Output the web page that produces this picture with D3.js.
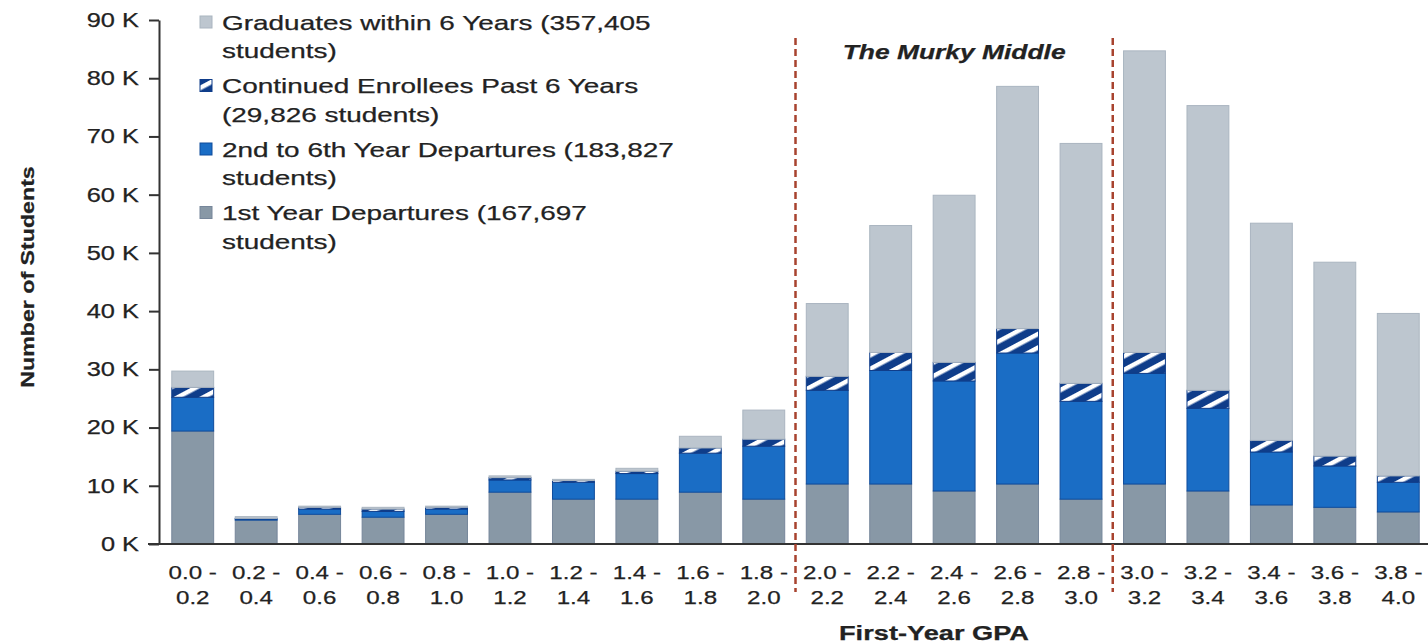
<html>
<head>
<meta charset="utf-8">
<title>First-Year GPA outcomes</title>
<style>
  body { margin: 0; background: #fff; }
  text { font-family: "Liberation Sans", Arial, sans-serif; fill: #222; stroke: #222; stroke-width: 0.25; }
</style>
</head>
<body>
<svg id="chart" width="1428" height="644"></svg>
<script src="https://d3js.org/d3.v7.min.js"></script>
<script>
// values in thousands of students
const gpaLow  = ["0.0","0.2","0.4","0.6","0.8","1.0","1.2","1.4","1.6","1.8","2.0","2.2","2.4","2.6","2.8","3.0","3.2","3.4","3.6","3.8"];
const gpaHigh = ["0.2","0.4","0.6","0.8","1.0","1.2","1.4","1.6","1.8","2.0","2.2","2.4","2.6","2.8","3.0","3.2","3.4","3.6","3.8","4.0"];
const firstYear  = [19.4,4.1,5.1,4.6,5.1,8.9,7.7,7.7,8.9,7.7,10.3,10.3,9.1,10.3,7.7,10.3,9.1,6.7,6.3,5.5];
const secondSixth = [5.8,0.2,0.9,1.0,0.9,2.1,2.9,4.4,6.7,9.1,16.1,19.5,18.9,22.5,16.8,19.0,14.2,9.1,7.1,5.1];
const continued  = [1.7,0.1,0.3,0.4,0.3,0.4,0.3,0.4,0.9,1.2,2.4,3.1,3.2,4.2,3.1,3.6,3.1,2.0,1.7,1.1];
const graduates  = [2.8,0.3,0.2,0.3,0.2,0.3,0.2,0.5,2.0,5.0,12.5,21.8,28.7,41.6,41.2,51.8,48.9,37.3,33.3,27.9];
const yTicks = [0,10,20,30,40,50,60,70,80,90];
const legendLines = [
  ["Graduates within 6 Years (357,405", "students)"],
  ["Continued Enrollees Past 6 Years", "(29,826 students)"],
  ["2nd to 6th Year Departures (183,827", "students)"],
  ["1st Year Departures (167,697", "students)"]
];
const murkyFrom = "2.0", murkyTo = "3.0"; // GPA range of the murky middle

const svg = d3.select("#chart");
const K = 1.27; // the picture's text is wider than normal Arial

function stretch(sel, k) {
  sel.each(function() {
    const w = this.getComputedTextLength();
    d3.select(this).attr("textLength", w * k).attr("lengthAdjust", "spacingAndGlyphs");
  });
}

const x = d3.scaleBand().domain(gpaLow).range([161, 1430]).paddingInner(0.34).paddingOuter(0.17);
const y = d3.scaleLinear().domain([0, 90]).range([544, 20]);

// hatch for continued enrollees
const defs = svg.append("defs");
const pat = defs.append("pattern").attr("id", "hatch").attr("patternUnits", "userSpaceOnUse")
  .attr("width", 12).attr("height", 12).attr("patternTransform", "rotate(62)");
pat.append("rect").attr("width", 12).attr("height", 12).attr("fill", "#0f3d8a");
pat.append("rect").attr("x", 0).attr("width", 4.5).attr("height", 12).attr("fill", "#fff");

const series = [
  { vals: firstYear,  fill: "#8898a6", stroke: "#76869a" },
  { vals: secondSixth, fill: "#1a6dc5", stroke: "#0f4c9c" },
  { vals: continued,  fill: "url(#hatch)", stroke: "#0f3d8a" },
  { vals: graduates,  fill: "#bdc6cf", stroke: "#aab5c0" }
];

const rows = gpaLow.map((g, i) => {
  const r = { key: g };
  series.forEach((s, j) => r["s" + j] = s.vals[i]);
  return r;
});
const stack = d3.stack().keys(series.map((s, j) => "s" + j))(rows);

svg.append("g").selectAll("g").data(stack).join("g")
  .attr("fill", (d, j) => series[j].fill)
  .attr("stroke", (d, j) => series[j].stroke)
  .attr("stroke-width", 1)
  .selectAll("rect").data(d => d).join("rect")
  .attr("x", d => x(d.data.key))
  .attr("width", x.bandwidth())
  .attr("y", d => y(d[1]))
  .attr("height", d => y(d[0]) - y(d[1]));

// y axis
const ya = svg.append("g").attr("transform", "translate(159,0)")
  .call(d3.axisLeft(y).tickValues(yTicks).tickSize(10).tickPadding(10).tickSizeOuter(0).tickFormat(d => d + " K"));
ya.selectAll("path, line").attr("stroke", "#333").attr("stroke-width", 2);
ya.selectAll("text").attr("font-size", 20).attr("fill", "#222").attr("font-family", null).call(stretch, K);

// x axis
svg.append("line").attr("x1", 148).attr("x2", 1428).attr("y1", y(0)).attr("y2", y(0))
  .attr("stroke", "#333").attr("stroke-width", 2);
const xl = svg.append("g").selectAll("g").data(gpaLow).join("g")
  .attr("transform", d => `translate(${x(d) + x.bandwidth() / 2},0)`);
xl.append("text").attr("y", 579).attr("text-anchor", "middle").attr("font-size", 19)
  .text(d => d + " -").call(stretch, K);
xl.append("text").attr("y", 604).attr("text-anchor", "middle").attr("font-size", 19)
  .text((d, i) => gpaHigh[i]).call(stretch, K);

svg.append("text").attr("x", 934).attr("y", 640).attr("text-anchor", "middle")
  .attr("font-size", 20).attr("font-weight", "bold").text("First-Year GPA").call(stretch, 1.36);

svg.append("text").attr("transform", "translate(34,277) rotate(-90)").attr("text-anchor", "middle")
  .attr("font-size", 19).attr("font-weight", "bold").text("Number of Students").call(stretch, 1.22);

// murky middle
const step = x.step();
const lastMurky = gpaLow[gpaHigh.indexOf(murkyTo)];
const xa = x(murkyFrom) - step * x.paddingInner() / 2;
const xb = x(lastMurky) + x.bandwidth() + step * x.paddingInner() / 2;
svg.append("g").selectAll("line").data([xa, xb]).join("line")
  .attr("x1", d => d).attr("x2", d => d).attr("y1", 38).attr("y2", 592)
  .attr("stroke", "#a8432f").attr("stroke-width", 2.5).attr("stroke-dasharray", "7,4");
svg.append("text").attr("x", (xa + xb) / 2).attr("y", 59).attr("text-anchor", "middle")
  .attr("font-size", 20).attr("font-weight", "bold").attr("font-style", "italic")
  .text("The Murky Middle").call(stretch, 1.32);

// legend, top to bottom: graduates, continued, 2nd-6th, 1st year
const legOrder = [3, 2, 1, 0];
const leg = svg.append("g").selectAll("g").data(legendLines).join("g")
  .attr("transform", (d, i) => `translate(200,${22 + i * 63.5})`);
leg.append("rect").attr("x", 0).attr("y", -6).attr("width", 12).attr("height", 12)
  .attr("fill", (d, i) => series[legOrder[i]].fill)
  .attr("stroke", (d, i) => series[legOrder[i]].stroke);
leg.append("text").attr("x", 22).attr("y", 7.5).attr("font-size", 21).text(d => d[0]).call(stretch, 1.33);
leg.append("text").attr("x", 22).attr("y", 36).attr("font-size", 21).text(d => d[1]).call(stretch, 1.33);
</script>
</body>
</html>
